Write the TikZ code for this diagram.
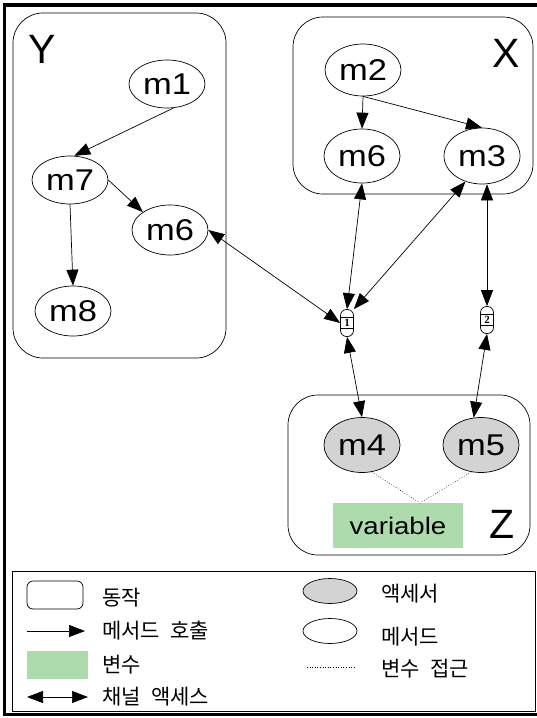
\documentclass[tikz,border=0pt]{standalone}
\usepackage{fontspec}
\setmainfont{Liberation Sans}
\newfontfamily\widefont[FakeStretch=1.15]{Liberation Sans}
\newfontfamily\numfont{Liberation Serif}
\newfontfamily\krfont{Noto Sans CJK KR}
\usetikzlibrary{shapes.geometric,arrows.meta}
\definecolor{vargreen}{HTML}{ADDBAE}
\definecolor{accgray}{HTML}{D3D3D3}
\begin{document}
\begin{tikzpicture}[x=1pt,y=-1pt,
  meth/.style={ellipse,draw,line width=0.7pt,inner sep=0pt,minimum width=76pt,minimum height=50pt,font=\widefont\fontsize{30}{30}\selectfont},
  acc/.style={meth,fill=accgray},
  grp/.style={draw,line width=0.7pt,rounded corners=30pt},
  grplbl/.style={font=\fontsize{41}{41}\selectfont,inner sep=0pt},
  call/.style={line width=0.7pt,-{Triangle[length=16pt,width=12pt]}},
  chan/.style={line width=0.7pt,{Triangle[length=16pt,width=12pt]}-{Triangle[length=16pt,width=12pt]}},
  chanbox/.style={draw,rectangle,rounded corners=6pt,minimum width=13pt,minimum height=27pt,inner sep=0pt,line width=0.7pt,fill=white},
  chanlbl/.style={draw,rectangle,minimum width=13pt,minimum height=11pt,inner sep=0pt,line width=0.8pt,font=\numfont\bfseries\fontsize{11}{11}\selectfont},
  access/.style={dotted,line width=0.6pt},
  kr/.style={font=\krfont\fontsize{21}{21}\selectfont,anchor=west,inner sep=0pt},
]
\useasboundingbox (0,0) rectangle (537,718);
% outer frame
\draw[line width=3.5pt] (537,5) -- (4.5,5) -- (4.5,714.5) -- (537,714.5);

% group boxes
\draw[grp] (13,13) rectangle (226,358);
\node[grplbl] (ylbl) at (42,49) {Y};
\draw[grp] (293,17) rectangle (533,194);
\node[grplbl] (xlbl) at (506,53) {X};
\draw[grp] (288,395) rectangle (530,555);
\node[grplbl] (zlbl) at (502,524) {Z};

% variable
\node[fill=vargreen,minimum width=130pt,minimum height=45pt,inner sep=0pt,font=\widefont\fontsize{24}{24}\selectfont] (var) at (398,525.5) {variable};
\coordinate (va) at (420,503);

% methods
\node[meth,minimum height=48pt] (m1) at (167,84) {m1};
\node[meth,minimum height=48pt] (m7) at (70,180) {m7};
\node[meth] (m6y) at (170,230) {m6};
\node[meth] (m8) at (73,311) {m8};
\node[meth,minimum height=52pt] (m2) at (363,70) {m2};
\node[meth,minimum height=54pt] (m6x) at (362,156) {m6};
\node[meth,minimum height=56pt] (m3) at (482,156) {m3};
\node[acc,minimum height=55pt] (m4) at (362,445) {m4};
\node[acc,minimum height=55pt] (m5) at (481,445) {m5};

% channels
\node[chanbox] (c1) at (347,323) {};
\node[chanlbl] (c1l) at (c1) {1};
\node[chanbox] (c2) at (487,320) {};
\node[chanlbl] (c2l) at (c2) {2};

% method calls
\draw[call] (m1.-75) -- (m7.80);
\draw[call] (m7.east) -- (m6y.north west);
\draw[call] (m7.south) -- (m8.north);
\draw[call] (m2.south) -- (m6x.north);
\draw[call] (m2.south) -- (m3.north);

% channel accesses
\draw[chan] (m6y.east) -- (c1.west);
\draw[chan] (m6x.south) -- (c1.north);
\draw[chan] (m3.-123) -- (c1.north east);
\draw[chan] (c2.north |- m3.south) -- (c2.north);
\draw[chan] (c1.south) -- (m4.north);
\draw[chan] (c2.south) -- (m5.105);

% variable access
\draw[access] (m4.-70) -- (va);
\draw[access] (m5.-110) -- (va);

% legend
\draw[line width=1pt] (12,571) rectangle (535,711);
\draw[line width=0.7pt,rounded corners=6pt] (27,581) rectangle (83,609);
\node[kr] (l1) at (102,598) {동작};
\coordinate (a1) at (27,631);
\coordinate (a2) at (85,631);
\draw[call] (a1) -- (a2);
\node[kr] (l2) at (102,631) {메서드\hspace{0.5em}호출};
\fill[vargreen] (27,651) rectangle (88,679);
\node[kr] (l3) at (102,665) {변수};
\coordinate (b1) at (27,697);
\coordinate (b2) at (88,697);
\draw[chan] (b1) -- (b2);
\node[kr] (l4) at (102,697) {채널\hspace{0.5em}액세스};
\node[ellipse,draw,fill=accgray,line width=0.7pt,minimum width=54pt,minimum height=25pt,inner sep=0pt] (le1) at (330,591) {};
\node[kr] (l5) at (381,594) {액세서};
\node[ellipse,draw,line width=0.7pt,minimum width=54pt,minimum height=25pt,inner sep=0pt] (le2) at (330,631) {};
\node[kr] (l6) at (381,637) {메서드};
\coordinate (d1) at (307,667);
\coordinate (d2) at (355,667);
\draw[access] (d1) -- (d2);
\node[kr] (l7) at (381,669) {변수\hspace{0.5em}접근};
\end{tikzpicture}
\end{document}
